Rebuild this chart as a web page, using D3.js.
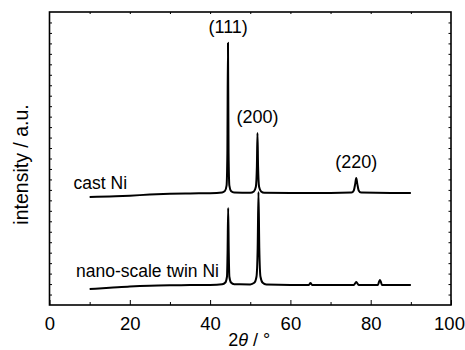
<!DOCTYPE html>
<html>
<head>
<meta charset="utf-8">
<script src="https://cdn.jsdelivr.net/npm/d3@7"></script>
<style>
  body { margin: 0; background: #fff; }
  text { font-family: "Liberation Sans", Arial, sans-serif; fill: #000; }
</style>
</head>
<body>
<script>
// XRD patterns, 2theta in degrees vs intensity (arbitrary units, curves offset)
const castNi = [
  [10, 10.32], [15, 10.38], [20, 10.45], [25, 10.55], [30, 10.62], [35, 10.66], [40, 10.68],
  [43.0, 10.75], [43.7, 10.9], [44.1, 11.4], [44.3, 14.5], [44.45, 25.05], [44.6, 14.5],
  [44.8, 11.4], [45.2, 10.9], [46.0, 10.75], [50.0, 10.72],
  [50.9, 10.85], [51.4, 11.3], [51.65, 13.2], [51.8, 16.44], [51.95, 13.2], [52.2, 11.3],
  [52.7, 10.85], [53.5, 10.72], [60, 10.71], [70, 10.71], [75.2, 10.74],
  [75.8, 10.95], [76.15, 11.6], [76.4, 12.14], [76.65, 11.6], [77.0, 10.95],
  [77.6, 10.74], [85, 10.71], [90, 10.71]
];
const nanoNi = [
  [10, 1.53], [15, 1.64], [20, 1.76], [25, 1.84], [30, 1.88], [35, 1.9], [40, 1.92],
  [43.0, 1.98], [43.8, 2.15], [44.2, 2.7], [44.35, 5.0], [44.5, 9.27], [44.65, 5.0],
  [44.8, 2.7], [45.2, 2.15], [46.0, 1.98], [50.0, 1.97],
  [51.0, 2.12], [51.55, 2.7], [51.85, 5.5], [52.05, 10.8], [52.25, 5.5], [52.55, 2.7],
  [53.1, 2.12], [54.0, 1.96], [60, 1.92], [64.6, 1.92], [65.0, 2.1], [65.4, 1.92],
  [75.8, 1.92], [76.2, 2.12], [76.4, 2.2], [76.6, 2.12], [77.0, 1.92],
  [81.8, 1.92], [82.1, 2.25], [82.3, 2.39], [82.5, 2.25], [82.8, 1.92], [90, 1.91]
];
const xTicks = [0, 20, 40, 60, 80, 100];
const peakLabels = [
  { text: "(111)", x: 44.5, y: 25.05 },
  { text: "(200)", x: 51.8, y: 16.44 },
  { text: "(220)", x: 76.4, y: 12.14 }
];
const curveLabels = [
  { text: "cast Ni", x: 6, y: 11.1 },
  { text: "nano-scale twin Ni", x: 6.6, y: 2.7 }
];

const W = 465, H = 350;
const margin = {top: 12, right: 14, bottom: 45, left: 49.5};
const width = W - margin.left - margin.right,
      height = H - margin.top - margin.bottom;

const svg = d3.select("body").append("svg")
    .attr("width", W)
    .attr("height", H);
const g = svg.append("g")
    .attr("transform", `translate(${margin.left},${margin.top})`);

const x = d3.scaleLinear().domain([0, 100]).range([0, width]);
const y = d3.scaleLinear().domain([0, 28]).range([height, 0]);

// bottom axis, ticks pointing inward
g.append("g")
    .attr("transform", `translate(0,${height})`)
    .call(d3.axisBottom(x).tickValues(xTicks).tickSize(-5).tickPadding(8))
    .call(a => a.select(".domain").remove())
    .call(a => a.selectAll("text").attr("font-size", 18.5).attr("dy", "0.9em")
        .attr("dx", d => d === 100 ? -2 : 0));
g.append("g")
    .attr("transform", `translate(0,${height})`)
    .call(d3.axisBottom(x).tickValues(d3.range(10, 100, 20)).tickSize(-3).tickFormat(""))
    .call(a => a.select(".domain").remove());
// top minor ticks
g.append("g")
    .call(d3.axisTop(x).tickValues(d3.range(10, 100, 10)).tickSize(-2).tickFormat(""))
    .call(a => a.select(".domain").remove());
// left and right ticks
g.append("g")
    .call(d3.axisLeft(y).tickValues(d3.range(1, 28)).tickSize(-2.5).tickFormat(""))
    .call(a => a.select(".domain").remove());
g.append("g")
    .attr("transform", `translate(${width},0)`)
    .call(d3.axisRight(y).tickValues(d3.range(1, 28)).tickSize(-2.5).tickFormat(""))
    .call(a => a.select(".domain").remove());
g.selectAll(".tick line").attr("stroke", "#000").attr("stroke-width", 1);

// frame
g.append("rect")
    .attr("width", width)
    .attr("height", height)
    .attr("fill", "none")
    .attr("stroke", "#000")
    .attr("stroke-width", 1.6);

const line = d3.line()
    .x(d => x(d[0]))
    .y(d => y(d[1]))
    .curve(d3.curveMonotoneX);

[castNi, nanoNi].forEach(s => {
  g.append("path")
      .datum(s)
      .attr("fill", "none")
      .attr("stroke", "#000")
      .attr("stroke-width", 2)
      .attr("stroke-linejoin", "round")
      .attr("d", line);
});

g.selectAll(".peak")
    .data(peakLabels)
    .enter().append("text")
    .attr("x", d => x(d.x))
    .attr("y", d => y(d.y) - 10)
    .attr("text-anchor", "middle")
    .attr("font-size", 18)
    .text(d => d.text);

g.selectAll(".curve")
    .data(curveLabels)
    .enter().append("text")
    .attr("x", d => x(d.x))
    .attr("y", d => y(d.y))
    .attr("font-size", 17.5)
    .text(d => d.text);

// axis titles
svg.append("text")
    .attr("transform", `translate(28,${margin.top + height / 2 + 6}) rotate(-90)`)
    .attr("text-anchor", "middle")
    .attr("font-size", 19.5)
    .text("intensity / a.u.");

const xt = svg.append("text")
    .attr("x", margin.left + width / 2 - 1)
    .attr("y", 346)
    .attr("text-anchor", "middle")
    .attr("font-size", 18);
xt.append("tspan").text("2");
xt.append("tspan").attr("font-style", "italic").text("θ");
xt.append("tspan").text(" / °");
</script>
</body>
</html>
